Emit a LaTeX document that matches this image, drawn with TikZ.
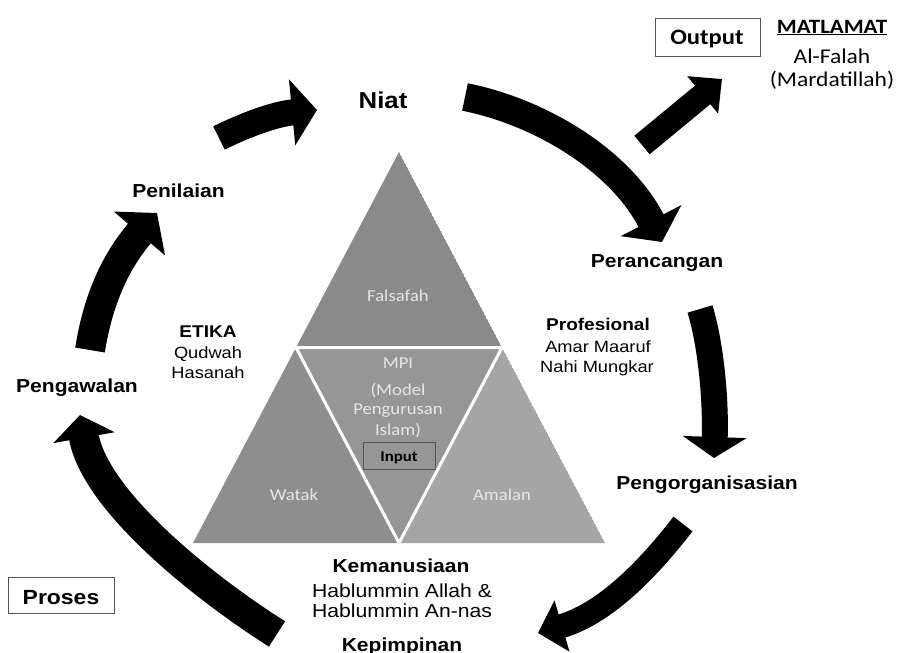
\documentclass[tikz,border=0pt]{standalone}
\usepackage{fontspec}
\setmainfont{Liberation Sans}
\newfontfamily\carl{Carlito}
\usetikzlibrary{arrows.meta}
\definecolor{gTop}{HTML}{8A8A8A}
\definecolor{gMid}{HTML}{969696}
\definecolor{gLeft}{HTML}{8E8E8E}
\definecolor{gRight}{HTML}{A5A5A5}
\definecolor{tri}{HTML}{E6E6E6}
\definecolor{boxline}{HTML}{555555}
\begin{document}
\begin{tikzpicture}[x=1pt,y=-1pt,
  lbl/.style={font=\bfseries\fontsize{18.8}{20}\selectfont, anchor=base, inner sep=0pt, xscale=1.12},
  sublbl/.style={font=\bfseries\fontsize{17}{19}\selectfont, anchor=base, inner sep=0pt, xscale=1.12},
  reg/.style={font=\fontsize{16.3}{18}\selectfont, anchor=base, inner sep=0pt, xscale=1.12},
  regbig/.style={font=\fontsize{18.9}{20}\selectfont, anchor=base, inner sep=0pt, xscale=1.12},
  tritxt/.style={font=\carl\fontsize{16.7}{18}\selectfont, text=tri, anchor=base, inner sep=0pt, xscale=1.12},
  carltxt/.style={font=\carl\fontsize{21}{22}\selectfont, anchor=base, inner sep=0pt, xscale=1.12},
  framebox/.style={draw=boxline, line width=1pt, inner sep=0pt},
  cyc/.style={line width=#1, draw=black}
]
\useasboundingbox (0,0) rectangle (898,653);
\fill[white] (0,0) rectangle (898,653);

% ---- triangle ----
\coordinate (apex) at (399,152);
\coordinate (bl) at (193,543);
\coordinate (br) at (605,543);
\coordinate (ml) at (296,347.5);
\coordinate (mr) at (502,347.5);
\coordinate (bm) at (399,543);
\begin{scope}
  \clip (apex) -- (bl) -- (br) -- cycle;
  \fill[gTop] (apex) -- (ml) -- (mr) -- cycle;
  \fill[gMid] (ml) -- (mr) -- (bm) -- cycle;
  \fill[gLeft] (ml) -- (bm) -- (bl) -- cycle;
  \fill[gRight] (mr) -- (br) -- (bm) -- cycle;
  \draw[white, line width=3pt] (ml) -- (mr) -- (bm) -- cycle;
\end{scope}

\node[tritxt] (falsafah) at (398,301) {Falsafah};
\node[tritxt] (mpi) at (398,368) {MPI};
\node[tritxt] (model) at (398,395) {(Model};
\node[tritxt] (peng) at (398,414) {Pengurusan};
\node[tritxt] (islam) at (398,435) {Islam)};
\node[framebox, fill=gMid, minimum width=72pt, minimum height=27pt] (inbox) at (399,455.5) {};
\node[font=\carl\bfseries\fontsize{15}{16}\selectfont, anchor=base, inner sep=0pt, xscale=1.12] (input) at (399,461) {Input};
\node[tritxt] (watak) at (294,500) {Watak};
\node[tritxt] (amalan) at (502,500) {Amalan};

% ---- labels ----
\node[lbl, font=\bfseries\fontsize{23}{25}\selectfont] (niat) at (383,108) {Niat};
\node[lbl] (penilaian) at (178.5,197) {Penilaian};
\node[lbl] (pengawalan) at (77,392) {Pengawalan};
\node[lbl] (perancangan) at (657,267) {Perancangan};
\node[lbl] (pengorg) at (707,489) {Pengorganisasian};
\node[lbl] (kemanusiaan) at (401,572) {Kemanusiaan};
\node[regbig] (hab1) at (402,597) {Hablummin Allah \&};
\node[regbig] (hab2) at (402,617) {Hablummin An-nas};
\node[lbl] (kepimpinan) at (402,651) {Kepimpinan};
\node[sublbl] (etika) at (208,337) {ETIKA};
\node[reg] (qudwah) at (208,358) {Qudwah};
\node[reg] (hasanah) at (208,378) {Hasanah};
\node[sublbl] (profesional) at (598,330) {Profesional};
\node[reg] (amar) at (598,352) {Amar Maaruf};
\node[reg] (nahi) at (597,372) {Nahi Mungkar};

% ---- boxes ----
\node[framebox, minimum width=106pt, minimum height=36pt] (probox) at (61,595) {};
\node[lbl, font=\bfseries\fontsize{20.5}{22}\selectfont] (proses) at (61,604) {Proses};
\node[framebox, minimum width=105pt, minimum height=38pt] (outbox) at (707.5,37) {};
\node[carltxt, font=\carl\bfseries\fontsize{22}{24}\selectfont] (output) at (707,45) {Output};
\node[carltxt, font=\carl\bfseries\fontsize{20.4}{22}\selectfont] (matlamat) at (832,33) {\underline{MATLAMAT}};
\node[carltxt] (falah) at (832,63) {Al-Falah};
\node[carltxt] (mard) at (832,86) {(Mardatillah)};

% ---- arrows ----
\coordinate (a1) at (90,350);   \coordinate (a2) at (157,213);
\coordinate (b1) at (219,138);  \coordinate (b2) at (317,110);
\coordinate (c1) at (465,97);   \coordinate (c2) at (662,242);
\coordinate (d1) at (642,145);  \coordinate (d2) at (722,79);
\coordinate (e1) at (700,309);  \coordinate (e2) at (714,458);
\coordinate (f1) at (683,524);  \coordinate (f2) at (538,633);
\coordinate (g1) at (277,634);  \coordinate (g2) at (80,415);

\draw[cyc=30pt, -{Triangle[length=27pt,width=66pt]}] (a1) .. controls (98,300) and (115,262) .. (a2);
\draw[cyc=26pt, -{Triangle[length=25pt,width=65pt]}] (b1) .. controls (245,125) and (275,114) .. (b2);
\draw[cyc=28pt, -{Triangle[length=24pt,width=67pt]}] (c1) .. controls (540,112) and (620,160) .. (c2);
\draw[cyc=24pt, -{Triangle[length=25pt,width=47pt]}] (d1) -- (d2);
\draw[cyc=26pt, -{Triangle[length=21pt,width=63pt]}] (e1) .. controls (711,345) and (716,400) .. (e2);
\draw[cyc=24pt, -{Triangle[length=25pt,width=52pt]}] (f1) .. controls (655,560) and (610,612) .. (f2);
\draw[cyc=30pt, -{Triangle[length=23pt,width=61pt]}] (g1) .. controls (200,585) and (95,500) .. (g2);
\end{tikzpicture}
\end{document}
